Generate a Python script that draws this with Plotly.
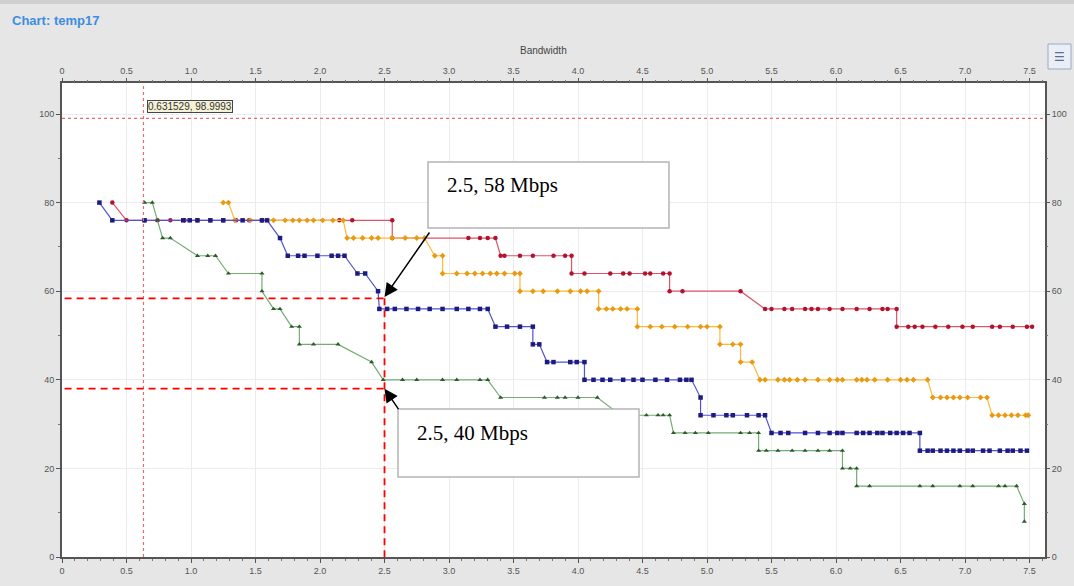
import plotly.graph_objects as go

# ---------------- data ----------------
red_x = [0.39, 0.50, 0.64, 0.74, 0.84, 0.95, 1.05, 1.15, 1.25, 1.35, 1.45, 1.55, 2.15, 2.25, 2.56,
         2.56, 3.15, 3.24, 3.30, 3.36,
         3.40, 3.43, 3.55, 3.65, 3.81, 3.90, 3.95,
         3.95, 4.05, 4.25, 4.35, 4.40, 4.52, 4.56, 4.66, 4.71,
         4.71, 4.81, 5.26,
         5.45, 5.50, 5.60, 5.66, 5.76, 5.81, 5.86, 5.95, 6.05, 6.16, 6.26, 6.36, 6.40, 6.47,
         6.47, 6.56, 6.61, 6.67, 6.77, 6.87, 6.98, 7.06, 7.21, 7.27, 7.37, 7.48, 7.52]
red_y = [80] + [76] * 14 + [72] * 5 + [68] * 7 + [64] * 9 + [60] * 3 + [56] * 14 + [52] * 13

orange_x = [1.25, 1.29,
            1.34, 1.46, 1.55, 1.64, 1.73, 1.79, 1.84, 1.90, 1.95, 2.02, 2.10, 2.18,
            2.21, 2.26, 2.33, 2.40, 2.45, 2.56, 2.66, 2.75, 2.81,
            2.89, 2.95,
            2.95, 3.06, 3.14, 3.20, 3.26, 3.32, 3.37, 3.43, 3.51, 3.55,
            3.55, 3.65, 3.73, 3.84, 3.94, 4.02, 4.07, 4.16,
            4.16, 4.22, 4.27, 4.33, 4.38, 4.46,
            4.46, 4.56, 4.65, 4.75, 4.85, 4.95, 5.00, 5.10,
            5.10, 5.20, 5.26,
            5.26, 5.35,
            5.41, 5.45, 5.55, 5.60, 5.64, 5.70, 5.76, 5.86, 5.95, 6.01, 6.05, 6.16, 6.20, 6.24,
            6.30, 6.40, 6.50, 6.55, 6.60, 6.71,
            6.75, 6.81, 6.86, 6.91, 6.96, 7.02, 7.12, 7.17,
            7.21, 7.26, 7.31, 7.36, 7.41, 7.47, 7.49]
orange_y = ([80] * 2 + [76] * 12 + [72] * 9 + [68] * 2 + [64] * 10 + [60] * 8 + [56] * 6
            + [52] * 8 + [48] * 3 + [44] * 2 + [40] * 20 + [36] * 8 + [32] * 7)

blue_x = [0.29, 0.39, 0.64, 0.94, 0.99, 1.05, 1.15, 1.25, 1.40, 1.55, 1.59,
          1.69,
          1.75, 1.83, 1.88, 1.98, 2.09, 2.14, 2.19,
          2.29, 2.35,
          2.45,
          2.46, 2.52, 2.58, 2.67, 2.76, 2.85, 2.95, 3.06, 3.15, 3.24, 3.30,
          3.36, 3.45, 3.55, 3.65,
          3.65, 3.70,
          3.76, 3.81, 3.94, 3.99, 4.05,
          4.05, 4.12, 4.19, 4.25, 4.35, 4.43, 4.50, 4.60, 4.69, 4.79, 4.84, 4.88,
          4.95,
          4.95, 5.05, 5.15, 5.20, 5.31, 5.40, 5.45,
          5.50, 5.57, 5.63, 5.76, 5.86, 5.95, 6.01, 6.05, 6.16, 6.21, 6.26, 6.32, 6.36, 6.42,
          6.47, 6.52, 6.57, 6.65,
          6.65, 6.71, 6.75, 6.81, 6.86, 6.91, 6.96, 7.02, 7.06, 7.14, 7.19, 7.27, 7.33, 7.37,
          7.43, 7.48]
blue_y = ([80] + [76] * 10 + [72] + [68] * 7 + [64] * 2 + [60] + [56] * 11 + [52] * 4
          + [48] * 2 + [44] * 5 + [40] * 12 + [36] + [32] * 7 + [28] * 18 + [24] * 16)

green_x = [0.64, 0.70, 0.74, 0.78, 0.84, 1.05, 1.13, 1.19, 1.29, 1.55, 1.55, 1.64, 1.69,
           1.78, 1.84, 1.84, 1.95, 2.14, 2.40,
           2.49, 2.64, 2.75, 2.95, 3.06, 3.24, 3.30,
           3.40, 3.74, 3.84, 3.90, 4.00, 4.15,
           4.33, 4.45, 4.53, 4.62, 4.66, 4.71,
           4.74, 4.83, 4.91, 5.01, 5.26, 5.33, 5.40,
           5.40, 5.46, 5.55, 5.66, 5.76, 5.86, 5.95, 6.05,
           6.05, 6.11, 6.16,
           6.16, 6.26, 6.65, 6.75, 6.96, 7.06, 7.26, 7.31, 7.40,
           7.46, 7.46]
green_y = ([80, 80, 76, 72, 72, 68, 68, 68, 64, 64, 60, 56, 56, 52, 52, 48, 48, 48, 44]
           + [40] * 7 + [36] * 6 + [32] * 6 + [28] * 7 + [24] * 8 + [20] * 3 + [16] * 9 + [12, 8])

x_tick_vals = [0, 0.5, 1.0, 1.5, 2.0, 2.5, 3.0, 3.5, 4.0, 4.5, 5.0, 5.5, 6.0, 6.5, 7.0, 7.5]
x_tick_text = ["0", "0.5", "1.0", "1.5", "2.0", "2.5", "3.0", "3.5", "4.0", "4.5", "5.0",
               "5.5", "6.0", "6.5", "7.0", "7.5"]
y_tick_vals = [0, 20, 40, 60, 80, 100]
y_tick_text = ["0", "20", "40", "60", "80", "100"]

cursor_x, cursor_y = 0.631529, 98.9993
cursor_label = "0.631529, 98.9993"

mark_x = 2.5
mark_hi, mark_lo = 58.7, 38.0
label_hi = "2.5, 58 Mbps"
label_lo = "2.5, 40 Mbps"

chart_title = "Chart: temp17"
axis_title = "Bandwidth"

# ---------------- geometry helpers (pixel -> paper) ----------------
W, H = 1074, 586
ML, MR, MT, MB = 62, 29, 83, 29
PW, PH = W - ML - MR, H - MT - MB


def px(x):
    return (x - ML) / PW


def py(y):
    return (H - MB - y) / PH


XR = [0, 7.62]
YR = [0, 107]

fig = go.Figure()

series = [
    (red_x, red_y, "#dc5468", "#b3122e", "circle", 4.5),
    (orange_x, orange_y, "#ffba3a", "#e99a12", "diamond", 4.5),
    (blue_x, blue_y, "#5252d2", "#1c1c80", "square", 4.5),
    (green_x, green_y, "#74ac74", "#2c5a2c", "triangle-up", 4.5),
]
for xs, ys, lc, mc, sym, ms in series:
    fig.add_trace(go.Scatter(x=xs, y=ys, mode="lines+markers",
                             line=dict(color=lc, width=1.2),
                             marker=dict(color=mc, symbol=sym, size=ms, line=dict(width=0)),
                             showlegend=False, hoverinfo="skip"))

# invisible copy on the secondary (top / right) axes so that they are drawn
fig.add_trace(go.Scatter(x=red_x, y=red_y, xaxis="x2", yaxis="y2", mode="lines",
                         line=dict(width=0), opacity=0, showlegend=False, hoverinfo="skip"))

tickfont = dict(family="Liberation Sans, Arial", size=9, color="#555")
axis_common = dict(tickfont=tickfont, ticks="outside", ticklen=4, tickcolor="#555",
                   zeroline=False, automargin=False)

fig.update_layout(
    width=W, height=H,
    margin=dict(l=ML, r=MR, t=MT, b=MB, autoexpand=False),
    paper_bgcolor="#e6e6e6", plot_bgcolor="white",
    showlegend=False,
    title=dict(text="<b>" + chart_title + "</b>", x=12 / W, xanchor="left",
               y=1 - 20 / H, yanchor="middle", xref="container", yref="container",
               font=dict(family="Liberation Sans, Arial", size=13, color="#3d8de0")),
    xaxis=dict(range=XR, tickvals=x_tick_vals, ticktext=x_tick_text,
               showline=True, linecolor="#555", linewidth=2, mirror=True,
               showgrid=True, gridcolor="#ececec", gridwidth=1,
               minor=dict(dtick=0.1, ticks="outside", ticklen=2, tickcolor="#777", showgrid=False),
               **axis_common),
    xaxis2=dict(range=XR, overlaying="x", side="top", anchor="y",
                tickvals=x_tick_vals, ticktext=x_tick_text, showgrid=False, showline=False,
                minor=dict(dtick=0.1, ticks="outside", ticklen=2, tickcolor="#777", showgrid=False),
                **axis_common),
    yaxis=dict(range=YR, tickvals=y_tick_vals, ticktext=y_tick_text,
               showline=True, linecolor="#555", linewidth=2, mirror=True,
               showgrid=True, gridcolor="#ececec", gridwidth=1,
               minor=dict(dtick=10, ticks="outside", ticklen=2, tickcolor="#777", showgrid=False),
               **axis_common),
    yaxis2=dict(range=YR, overlaying="y", side="right", anchor="x",
                tickvals=y_tick_vals, ticktext=y_tick_text, showgrid=False, showline=False,
                minor=dict(dtick=10, ticks="outside", ticklen=2, tickcolor="#777", showgrid=False),
                **axis_common),
)

shapes = []
# top strip of the window
shapes.append(dict(type="rect", xref="paper", yref="paper", x0=px(0), x1=px(W), y0=py(4), y1=py(0),
                   line=dict(width=0), fillcolor="#cfcfcf", layer="below"))
# cursor crosshair (dotted)
shapes.append(dict(type="line", xref="x", yref="paper", x0=cursor_x, x1=cursor_x, y0=0, y1=1,
                   line=dict(color="#e86a6a", width=1.2, dash="dot")))
shapes.append(dict(type="line", xref="paper", yref="y", x0=0, x1=1, y0=cursor_y, y1=cursor_y,
                   line=dict(color="#e86a6a", width=1.2, dash="dot")))
# red dashed markers
dash = "7px,5px"
shapes.append(dict(type="line", xref="x", yref="y", x0=0.02, x1=mark_x, y0=mark_hi - 0.3, y1=mark_hi - 0.3,
                   line=dict(color="#ff0000", width=1.8, dash=dash)))
shapes.append(dict(type="line", xref="x", yref="y", x0=0.02, x1=mark_x, y0=mark_lo, y1=mark_lo,
                   line=dict(color="#ff0000", width=1.8, dash=dash)))
shapes.append(dict(type="line", xref="x", yref="y", x0=mark_x, x1=mark_x, y0=mark_hi - 0.3, y1=0,
                   line=dict(color="#ff0000", width=1.8, dash=dash)))
# callout boxes
shapes.append(dict(type="rect", xref="paper", yref="paper", x0=px(428), x1=px(669), y0=py(228), y1=py(162),
                   line=dict(color="#b4b4b4", width=1.5), fillcolor="white"))
shapes.append(dict(type="rect", xref="paper", yref="paper", x0=px(398), x1=px(639), y0=py(477), y1=py(409),
                   line=dict(color="#b4b4b4", width=1.5), fillcolor="white"))
# legend icon
shapes.append(dict(type="rect", xref="paper", yref="paper", x0=px(1048), x1=px(1071), y0=py(69), y1=py(44),
                   line=dict(color="#9aaac0", width=1), fillcolor="#eaeef6"))
fig.update_layout(shapes=shapes)

annotations = [
    dict(xref="paper", yref="paper", x=(543 - ML) / PW, y=py(50), text=axis_title, showarrow=False,
         font=dict(family="Liberation Sans, Arial", size=10, color="#444"), xanchor="center", yanchor="middle"),
    dict(xref="x", yref="y", x=0.66, y=101.8, text=cursor_label, showarrow=False,
         xanchor="left", yanchor="middle", font=dict(family="Liberation Sans, Arial", size=10, color="#333"),
         bgcolor="#f4f1d6", bordercolor="#444", borderwidth=1, borderpad=0),
    dict(xref="paper", yref="paper", x=px(445), y=py(185), text=label_hi, showarrow=False,
         xanchor="left", yanchor="middle", font=dict(family="Liberation Serif, Times New Roman", size=21, color="black")),
    dict(xref="paper", yref="paper", x=px(415), y=py(433), text=label_lo, showarrow=False,
         xanchor="left", yanchor="middle", font=dict(family="Liberation Serif, Times New Roman", size=21, color="black")),
    dict(xref="x", yref="y", x=mark_x, y=mark_hi, text="", showarrow=True, ax=46, ay=-66,
         arrowhead=2, arrowsize=1.8, arrowwidth=1.5, arrowcolor="black", standoff=0),
    dict(xref="x", yref="y", x=mark_x, y=mark_lo, text="", showarrow=True, ax=15, ay=22,
         arrowhead=2, arrowsize=1.8, arrowwidth=1.5, arrowcolor="black", standoff=0),
    dict(xref="paper", yref="paper", x=px(1059.5), y=py(56.5), text="☰", showarrow=False,
         xanchor="center", yanchor="middle", font=dict(family="DejaVu Sans", size=12, color="#5a6f90")),
]
fig.update_layout(annotations=annotations)

fig.write_html("out.html")
